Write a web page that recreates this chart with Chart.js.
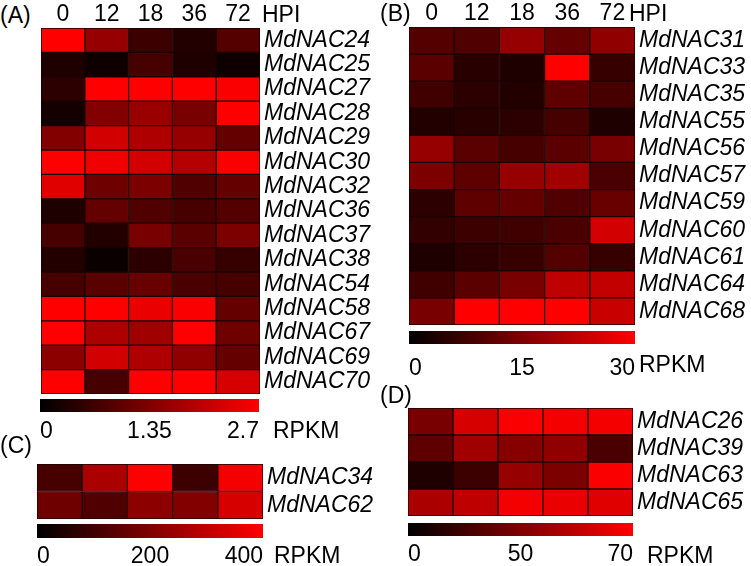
<!DOCTYPE html>
<html>
<head>
<meta charset="utf-8">
<script src="https://cdn.jsdelivr.net/npm/chart.js@4.4.0/dist/chart.umd.min.js"></script>
<style>
    body { margin: 0; background: #fff; width: 751px; height: 566px; position: relative; overflow: hidden;
           font-family: "Liberation Sans", Arial, sans-serif; }
    canvas { position: absolute; }
    .t { position: absolute; font-size: 23px; line-height: 26px; color: #000; white-space: nowrap; }
</style>
</head>
<body>
<canvas id="heatA"></canvas>
<canvas id="barA"></canvas>
<canvas id="heatB"></canvas>
<canvas id="barB"></canvas>
<canvas id="heatC"></canvas>
<canvas id="barC"></canvas>
<canvas id="heatD"></canvas>
<canvas id="barD"></canvas>

<div class="t" style="left:0px;top:2px">(A)</div>
<div class="t" style="left:262px;top:1px">HPI</div>
<div class="t" style="left:273px;top:417px">RPKM</div>
<div class="t" style="left:380px;top:0px">(B)</div>
<div class="t" style="left:629px;top:0px">HPI</div>
<div class="t" style="left:639px;top:351px">RPKM</div>
<div class="t" style="left:0px;top:432px">(C)</div>
<div class="t" style="left:274px;top:542px">RPKM</div>
<div class="t" style="left:380px;top:382px">(D)</div>
<div class="t" style="left:647px;top:542px">RPKM</div>

<script>
// time points (hours post inoculation)
const hours = ['0', '12', '18', '36', '72'];

// (A) RPKM, scale 0 - 2.7
const genesA = ['MdNAC24', 'MdNAC25', 'MdNAC27', 'MdNAC28', 'MdNAC29', 'MdNAC30', 'MdNAC32', 'MdNAC36',
                'MdNAC37', 'MdNAC38', 'MdNAC54', 'MdNAC58', 'MdNAC67', 'MdNAC69', 'MdNAC70'];
const valuesA = [
    [2.7, 1.59, 0.64, 0.37, 0.90],
    [0.32, 0.16, 0.74, 0.32, 0.16],
    [0.48, 2.7, 2.7, 2.7, 2.65],
    [0.21, 1.38, 1.64, 1.27, 2.7],
    [1.38, 2.22, 1.85, 1.59, 1.06],
    [2.7, 2.54, 2.22, 1.91, 2.65],
    [2.38, 1.16, 1.32, 0.85, 1.06],
    [0.32, 1.06, 0.85, 0.74, 0.90],
    [0.74, 0.37, 1.27, 0.95, 1.32],
    [0.37, 0.11, 0.48, 0.79, 0.58],
    [0.74, 0.95, 1.11, 0.79, 0.74],
    [2.7, 2.7, 2.49, 2.65, 1.06],
    [2.7, 1.85, 1.69, 2.7, 1.16],
    [1.48, 2.22, 1.85, 1.54, 1.06],
    [2.7, 0.74, 2.7, 2.7, 2.28]
];
const ticksA = ['0', '1.35', '2.7'];

// (B) RPKM, scale 0 - 30
const genesB = ['MdNAC31', 'MdNAC33', 'MdNAC35', 'MdNAC55', 'MdNAC56', 'MdNAC57', 'MdNAC59', 'MdNAC60',
                'MdNAC61', 'MdNAC64', 'MdNAC68'];
const valuesB = [
    [10.0, 9.4, 17.6, 11.8, 17.1],
    [10.6, 4.7, 3.5, 30, 6.5],
    [7.6, 5.3, 4.1, 11.2, 8.2],
    [4.1, 4.7, 5.3, 8.2, 3.5],
    [17.6, 10.6, 8.2, 10.6, 14.1],
    [14.7, 11.2, 17.6, 18.8, 8.8],
    [5.3, 11.2, 11.8, 9.4, 12.4],
    [5.9, 7.1, 7.6, 8.8, 24.7],
    [3.5, 5.3, 6.5, 10.0, 6.5],
    [7.6, 10.6, 14.1, 22.4, 22.9],
    [14.1, 30, 30, 30, 23.5]
];
const ticksB = ['0', '15', '30'];

// (C) RPKM, scale 0 - 400
const genesC = ['MdNAC34', 'MdNAC62'];
const valuesC = [
    [110, 267, 400, 94, 384],
    [173, 125, 220, 204, 337]
];
const ticksC = ['0', '200', '400'];

// (D) RPKM, scale 0 - 70
const genesD = ['MdNAC26', 'MdNAC39', 'MdNAC63', 'MdNAC65'];
const valuesD = [
    [32.9, 59.0, 68.6, 67.3, 67.3],
    [26.1, 43.9, 37.1, 39.8, 20.6],
    [8.2, 16.5, 41.2, 34.3, 68.6],
    [46.7, 52.2, 67.3, 64.5, 61.8]
];
const ticksD = ['0', '50', '70'];

const FONT = "'Liberation Sans', Arial, sans-serif";

function cellColor(v, max) {
    const r = Math.round(255 * Math.max(0, Math.min(v / max, 1)));
    return `rgb(${r},0,0)`;
}

function placeCanvas(id, left, top, width, height) {
    const c = document.getElementById(id);
    c.width = width;
    c.height = height;
    c.style.left = left + 'px';
    c.style.top = top + 'px';
    return c.getContext('2d');
}

// area = chart area in page pixels
function renderHeatmap(id, area, genes, values, max, showHours, labelWidth) {
    const top = showHours ? 0 : area.top;
    const ctx = placeCanvas(id, area.left, top, area.right - area.left + labelWidth, area.bottom - top);
    const datasets = hours.map((h, j) => ({
        label: h,
        data: genes.map(() => 1),
        backgroundColor: values.map(row => cellColor(row[j], max)),
        borderColor: '#1c0000',
        borderWidth: 1,
        borderSkipped: false,
        barPercentage: 1,
        categoryPercentage: 1,
    }));
    return new Chart(ctx, {
        type: 'bar',
        data: { labels: genes, datasets: datasets },
        options: {
            indexAxis: 'y',
            responsive: false,
            animation: false,
            devicePixelRatio: 1,
            layout: { padding: 0 },
            plugins: { legend: { display: false }, tooltip: { enabled: false } },
            scales: {
                x: {
                    type: 'linear', stacked: true, min: 0, max: hours.length,
                    position: 'top', display: showHours,
                    grid: { display: false, drawTicks: false },
                    border: { display: false },
                    afterBuildTicks: ax => { ax.ticks = hours.map((h, i) => ({ value: i + 0.5 })); },
                    ticks: {
                        autoSkip: false, maxRotation: 0, padding: 0, color: '#000',
                        font: { size: 23, family: FONT },
                        callback: (v, i) => hours[i]
                    },
                    afterFit: ax => {
                        ax.height = showHours ? area.top : 0;
                        ax.paddingLeft = 0;
                        ax.paddingRight = 0;
                    }
                },
                y: {
                    type: 'category', stacked: true, position: 'right',
                    grid: { display: false, drawTicks: false },
                    border: { display: false },
                    ticks: {
                        autoSkip: false, padding: 4, color: '#000',
                        font: { size: 23, family: FONT, style: 'italic' }
                    },
                    afterFit: ax => { ax.width = labelWidth; ax.paddingTop = 0; ax.paddingBottom = 0; }
                }
            }
        }
    });
}

function renderColorbar(id, area, max, tickLabels, gap) {
    const side = 20;
    const ctx = placeCanvas(id, area.left - side, area.top, area.right - area.left + 2 * side,
                            area.bottom - area.top + 40);
    return new Chart(ctx, {
        type: 'bar',
        data: {
            labels: ['RPKM'],
            datasets: [{
                data: [[0, max]],
                backgroundColor: c => {
                    const ca = c.chart.chartArea;
                    if (!ca) return '#000';
                    const g = c.chart.ctx.createLinearGradient(ca.left, 0, ca.right, 0);
                    g.addColorStop(0, '#000');
                    g.addColorStop(1, '#ff0000');
                    return g;
                },
                borderWidth: 0,
                barPercentage: 1,
                categoryPercentage: 1,
            }]
        },
        options: {
            indexAxis: 'y',
            responsive: false,
            animation: false,
            devicePixelRatio: 1,
            layout: { padding: { left: side, right: side } },
            plugins: { legend: { display: false }, tooltip: { enabled: false } },
            scales: {
                x: {
                    type: 'linear', min: 0, max: max, position: 'bottom',
                    grid: { display: false, drawTicks: false },
                    border: { display: false },
                    afterBuildTicks: ax => { ax.ticks = [0, max / 2, max].map(v => ({ value: v })); },
                    ticks: {
                        autoSkip: false, maxRotation: 0, padding: gap, align: 'inner', color: '#000',
                        font: { size: 23, family: FONT },
                        callback: (v, i) => tickLabels[i]
                    },
                    afterFit: ax => { ax.height = 40; ax.paddingLeft = 0; ax.paddingRight = 0; }
                },
                y: { display: false }
            }
        }
    });
}

renderHeatmap('heatA', { left: 41, right: 260, top: 28, bottom: 394 }, genesA, valuesA, 2.7, true, 131);
renderColorbar('barA', { left: 40, right: 259, top: 399, bottom: 412 }, 2.7, ticksA, 6);

renderHeatmap('heatB', { left: 409, right: 635, top: 27, bottom: 325 }, genesB, valuesB, 30, true, 116);
renderColorbar('barB', { left: 409, right: 635, top: 331, bottom: 344 }, 30, ticksB, 11);

renderHeatmap('heatC', { left: 37, right: 263, top: 464, bottom: 519 }, genesC, valuesC, 400, false, 131);
renderColorbar('barC', { left: 37, right: 263, top: 524, bottom: 538 }, 400, ticksC, 5);

renderHeatmap('heatD', { left: 408, right: 633, top: 408, bottom: 516 }, genesD, valuesD, 70, false, 118);
renderColorbar('barD', { left: 408, right: 633, top: 523, bottom: 536 }, 70, ticksD, 5);
</script>
</body>
</html>
